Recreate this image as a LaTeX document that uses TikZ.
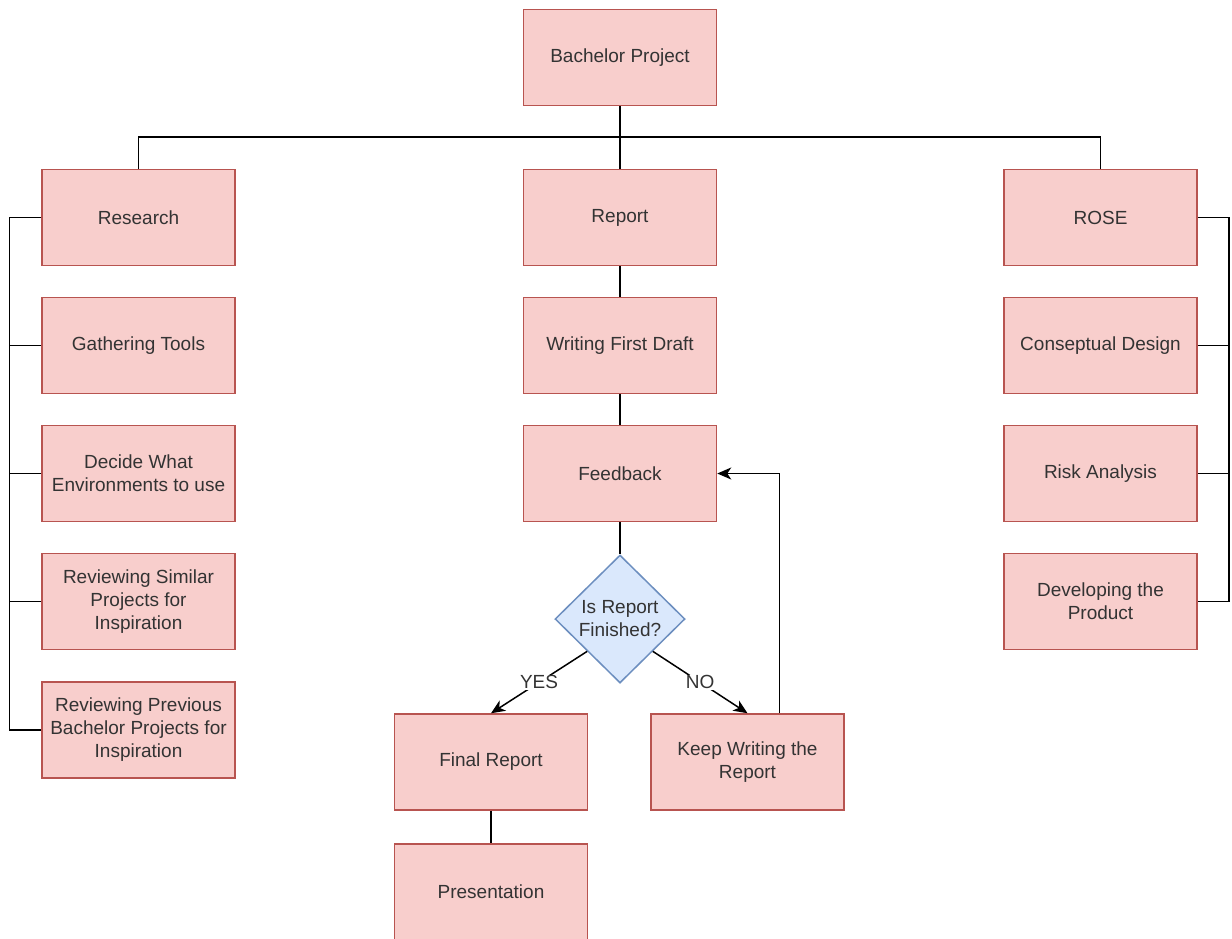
\documentclass[tikz,border=0pt]{standalone}
\usepackage{fontspec}
\setmainfont{Liberation Sans}
\usetikzlibrary{shapes.geometric,arrows.meta}
\definecolor{boxfill}{HTML}{F8CECC}
\definecolor{boxline}{HTML}{B85450}
\definecolor{dfill}{HTML}{DAE8FC}
\definecolor{dline}{HTML}{6C8EBF}
\definecolor{txt}{HTML}{333333}
\begin{document}
\begin{tikzpicture}[x=1pt,y=-1pt,
  box/.style={draw=boxline,fill=boxfill,line width=1.5pt,minimum width=193pt,minimum height=96pt,inner sep=0pt,align=center,text=txt,font=\fontsize{19}{23}\selectfont},
  conn/.style={draw=black,line width=1.5pt},
  arr/.style={conn,-{Stealth[length=14pt,width=12pt,inset=4pt]}},
  lbl/.style={fill=white,inner sep=1pt,text=txt,font=\fontsize{19}{23}\selectfont}]
\clip (0,0) rectangle (1232,938);
\fill[white] (0,0) rectangle (1232,938);
% top
\node[box] (bp) at (620,57.5) {Bachelor Project};
% columns
\node[box] (res) at (138.5,217.5) {Research};
\node[box] (gt) at (138.5,345.5) {Gathering Tools};
\node[box] (dw) at (138.5,473.5) {Decide What\\Environments to use};
\node[box] (rs) at (138.5,601.5) {Reviewing Similar\\Projects for\\Inspiration};
\node[box] (rp) at (138.5,730) {Reviewing Previous\\Bachelor Projects for\\Inspiration};
\node[box] (rep) at (620,217.5) {Report};
\node[box] (wfd) at (620,345.5) {Writing First Draft};
\node[box] (fb) at (620,473.5) {Feedback};
\node[draw=dline,fill=dfill,line width=1.5pt,shape=diamond,minimum width=130pt,minimum height=128pt,inner sep=0pt,
  label={[align=center,text=txt,font=\fontsize{19}{23}\selectfont]center:Is Report\\Finished?}] (dec) at (620,619) {};
\node[box] (fr) at (491,762) {Final Report};
\node[box] (pres) at (491,892) {Presentation};
\node[box] (kw) at (747.5,762) {Keep Writing the\\Report};
\node[box] (rose) at (1100.5,217.5) {ROSE};
\node[box] (cd) at (1100.5,345.5) {Conseptual Design};
\node[box] (ra) at (1100.5,473.5) {Risk Analysis};
\node[box] (dev) at (1100.5,601.5) {Developing the\\Product};
% top connectors
\coordinate (hub) at (620,137);
\draw[conn] (bp.south) -- (rep.north);
\draw[conn] (res.north) |- (hub) -| (rose.north);
% left bus
\draw[conn] (res.west) -- ++(-32,0) |- (rp.west);
\draw[conn] (gt.west) -- ++(-32,0);
\draw[conn] (dw.west) -- ++(-32,0);
\draw[conn] (rs.west) -- ++(-32,0);
% right bus
\draw[conn] (rose.east) -- ++(31,0) |- (dev.east);
\draw[conn] (cd.east) -- ++(31,0);
\draw[conn] (ra.east) -- ++(31,0);
% middle chain
\draw[conn] (rep.south) -- (wfd.north);
\draw[conn] (wfd.south) -- (fb.north);
\draw[conn] (fb.south) -- (dec.north);
\draw[conn] (fr.south) -- (pres.north);
\draw[arr] (dec.south west) -- node[lbl,pos=0.5] {YES} (fr.north);
\draw[arr] (dec.south east) -- node[lbl,pos=0.5] {NO} (kw.north);
\draw[arr] ([xshift=32pt]kw.north) |- (fb.east);
\end{tikzpicture}
\end{document}
